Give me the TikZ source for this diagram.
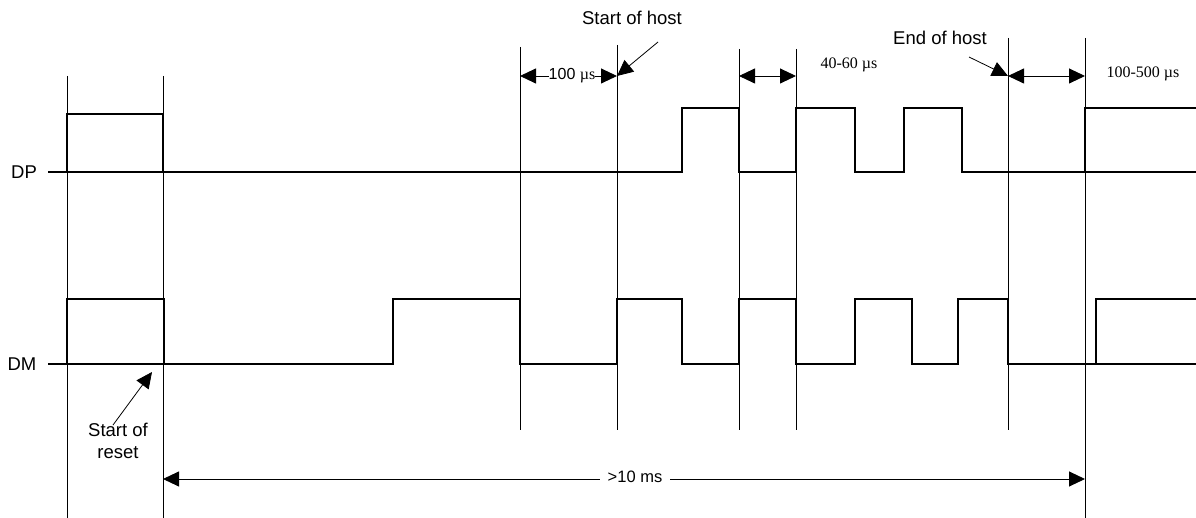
\documentclass[tikz,border=0pt]{standalone}
\usepackage{fontspec}
\setmainfont{Liberation Sans}
\newfontfamily\tms{Liberation Serif}
\usetikzlibrary{arrows.meta}
\begin{document}
\begin{tikzpicture}[x=1pt,y=-1pt,
  sig/.style={line width=1.7pt, line join=miter},
  base/.style={line width=1.2pt},
  guide/.style={line width=0.8pt},
  tip/.style={line width=0.8pt, -{Triangle[length=16pt,width=15pt]}},
  dim/.style={line width=0.9pt, {Triangle[length=16pt,width=15pt]}-{Triangle[length=16pt,width=15pt]}},
  lbl/.style={font=\fontsize{18.5}{22}\selectfont, inner sep=0pt},
  tlbl/.style={font=\tms\fontsize{16}{19}\selectfont, inner sep=0pt}]
\useasboundingbox (0,0) rectangle (1196,518);
% guide lines
\foreach \x/\t/\b in {67/76/518,163/76/518,520/47/430,617/45/430,739/49/430,796/49/430,1008/38/430,1085/38/518}
  \draw[guide] (\x,\t) -- (\x,\b);
% DP signal
\draw[base] (48,172) -- (163,172);
\draw[base] (1085,172) -- (1196,172);
\draw[sig] (48,172) -- (67,172) -- (67,114) -- (163,114) -- (163,172) -- (682,172) -- (682,108) -- (739,108) -- (739,172) -- (796,172) -- (796,108) -- (855,108) -- (855,172) -- (904,172) -- (904,108) -- (962,108) -- (962,172) -- (1085,172) -- (1085,108) -- (1196,108);
% DM signal
\draw[base] (48,364) -- (164,364);
\draw[base] (1096,364) -- (1196,364);
\draw[sig] (48,364) -- (67,364) -- (67,299) -- (164,299) -- (164,364) -- (393,364) -- (393,299) -- (520,299) -- (520,364) -- (617,364) -- (617,299) -- (682,299) -- (682,364) -- (739,364) -- (739,299) -- (796,299) -- (796,364) -- (855,364) -- (855,299) -- (912,299) -- (912,364) -- (958,364) -- (958,299) -- (1008,299) -- (1008,364) -- (1096,364) -- (1096,299) -- (1196,299);
% labels
\node[lbl] (dp) at (24,172) {DP};
\node[lbl] (dm) at (22,364) {DM};
% start of reset
\node[lbl, align=center] (sor) at (118,441) {Start of\\reset};
\coordinate (sorT) at (152,372);
\draw[tip] ([xshift=-5pt,yshift=-2pt]sor.north) -- (sorT);
% start of host
\node[lbl] (soh) at (632,18) {Start of host};
\coordinate (sohA) at (658,42);
\coordinate (a1) at (520,76);
\coordinate (a2) at (617,76);
\draw[tip] (sohA) -- (a2);
\draw[dim] (a1) -- (a2);
\node[fill=white, inner sep=0pt] (t100) at (572,76) {\fontsize{16}{19}\selectfont 100 {\tms µs}};
% 40-60
\coordinate (b1) at (739,76);
\coordinate (b2) at (796,76);
\draw[dim] (b1) -- (b2);
\node[tlbl] (t4060) at (849,65) {40-60 µs};
% end of host
\node[lbl] (eoh) at (940,38) {End of host};
\coordinate (eohA) at (969,57);
\coordinate (c1) at (1008,76);
\coordinate (c2) at (1085,76);
\draw[tip] (eohA) -- (c1);
\draw[dim] (c1) -- (c2);
\node[tlbl] (t100500) at (1143,74) {100-500 µs};
% >10 ms
\coordinate (d1) at (163,479);
\coordinate (d2) at (1085,479);
\draw[dim] (d1) -- (d2);
\node[fill=white, inner xsep=8pt, inner ysep=2pt, font=\fontsize{16.5}{19}\selectfont] (t10) at (635,477) {>10 ms};
\end{tikzpicture}
\end{document}
